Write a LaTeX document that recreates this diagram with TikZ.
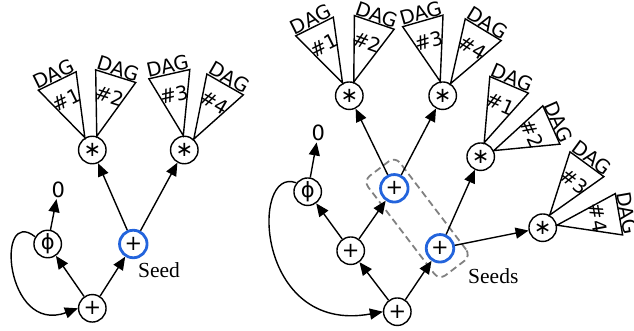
\documentclass[tikz,border=0pt]{standalone}
\usepackage{fontspec}
\newfontfamily\dv{DejaVu Sans}
\newfontfamily\tm{Liberation Serif}
\usetikzlibrary{arrows.meta,calc}
\definecolor{seedblue}{RGB}{35,100,220}
\definecolor{boxgray}{RGB}{128,128,128}
\tikzset{
  op/.style={circle,draw,line width=1.4pt,minimum size=27.5pt,inner sep=0pt,font=\dv\fontsize{21}{21}\selectfont},
  seednode/.style={op,draw=seedblue,line width=2.8pt},
  arr/.style={line width=1.4pt,-{Triangle[length=13pt,width=11pt]}},
  zerolbl/.style={font=\dv\fontsize{21}{21}\selectfont,inner sep=1pt},
  seedlbl/.style={font=\tm\fontsize{21.5}{21.5}\selectfont,inner sep=0pt},
  dagtri/.pic={
    \draw[line width=1.4pt,line join=miter] (0,0) -- (-21,-63) -- (21,-63) -- cycle;
    \node[transform shape,font=\dv\fontsize{19.5}{19.5}\selectfont,inner sep=0pt] at (0,-42) {\##1};
    \node[transform shape,anchor=south,font=\dv\fontsize{19.5}{19.5}\selectfont,inner sep=0.5pt] at (0,-63) {DAG};
  }
}
\begin{document}
\begin{tikzpicture}[x=1pt,y=-1pt]
\useasboundingbox (0,0) rectangle (634,330);
% ---------- left diagram ----------
\node[op] (bL) at (92.3,308.3) {+};
\node[op] (phiL) at (47.7,244) {ϕ};
\node[seednode] (sdL) at (133.3,244) {+};
\node[op] (s1) at (92.3,150) {∗};
\node[op] (s2) at (184.3,150) {∗};
\node[zerolbl] (zL) at (58.3,190) {0};
\node[seedlbl] (seedtxt) at (159,270) {Seed};
\draw[arr] (bL) -- (phiL);
\draw[arr] (bL) -- (sdL);
\draw[arr] (sdL) -- (s1);
\draw[arr] (sdL) -- (s2);
\draw[arr] (phiL) -- (zL);
\draw[arr] (phiL.150) .. controls (-5,205) and (5,335) .. (bL.west);
\pic[rotate=26] at (s1.121) {dagtri=1};
\pic[rotate=-17.5] at (s1.72) {dagtri=2};
\pic[rotate=12.8] at (s2.94) {dagtri=3};
\pic[rotate=-29.8] at (s2.49) {dagtri=4};
% ---------- right diagram ----------
\node[op] (bR) at (397.3,311.7) {+};
\node[op] (mR) at (350.7,250.7) {+};
\node[op] (phiR) at (307.7,191.7) {ϕ};
\node[zerolbl] (zR) at (318.3,133.3) {0};
\node[seednode] (uR) at (394.3,188.3) {+};
\node[seednode] (lR) at (440,248.3) {+};
\node[op] (sA) at (349.3,95.7) {∗};
\node[op] (sB) at (442.7,95.7) {∗};
\node[op] (sC) at (480.7,156.7) {∗};
\node[op] (sD) at (542.7,227.7) {∗};
\node[draw=boxgray,line width=1.8pt,dash pattern=on 7pt off 4pt,rounded corners=8pt,
      minimum width=125pt,minimum height=40pt,rotate=-52.7] (seedbox) at ($(uR)!0.5!(lR)$) {};
\node[seedlbl] (seedstxt) at (493.3,276) {Seeds};
\draw[arr] (bR) -- (mR);
\draw[arr] (bR) -- (lR);
\draw[arr] (mR) -- (phiR);
\draw[arr] (mR) -- (uR);
\draw[arr] (phiR) -- (zR);
\draw[arr] (uR) -- (sA);
\draw[arr] (uR) -- (sB);
\draw[arr] (lR) -- (sC);
\draw[arr] (lR) -- (sD);
\draw[arr] (phiR.142) .. controls (250,165) and (255,335) .. (bR.west);
\pic[rotate=26.4] at (sA.118) {dagtri=1};
\pic[rotate=-19] at (sA.72) {dagtri=2};
\pic[rotate=16] at (sB.100) {dagtri=3};
\pic[rotate=-31.2] at (sB.57) {dagtri=4};
\pic[rotate=-23.3] at (sC.76) {dagtri=1};
\pic[rotate=-66] at (sC.25) {dagtri=2};
\pic[rotate=-36.2] at (sD.61) {dagtri=3};
\pic[rotate=-80] at (sD.10) {dagtri=4};
\end{tikzpicture}
\end{document}
